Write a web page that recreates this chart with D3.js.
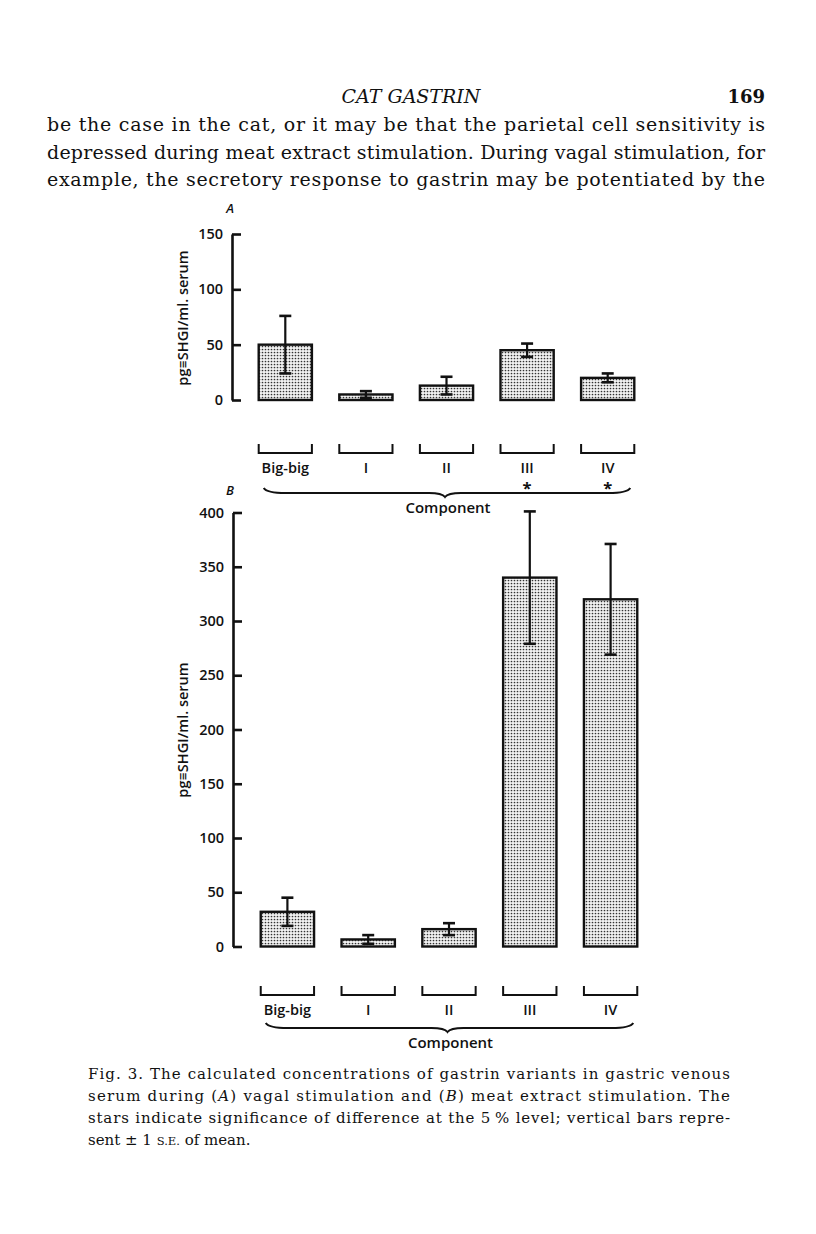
<!DOCTYPE html>
<html>
<head>
<meta charset="utf-8">
<script src="https://cdn.jsdelivr.net/npm/d3@7/dist/d3.min.js"></script>
<style>
  html, body { margin: 0; padding: 0; background: #fff; }
  svg { display: block; }
</style>
</head>
<body>
<script>
// ---------- data ----------
const categories = ["Big-big", "I", "II", "III", "IV"];
const valuesA = [50, 5, 13, 45, 20];
const errorsA = [26, 3, 8, 6, 4];
const starsA = ["", "", "", "*", "*"];
const valuesB = [32, 6.5, 16, 340, 320];
const errorsB = [13, 4, 5.5, 61, 51];
const ticksA = [0, 50, 100, 150];
const ticksB = [0, 50, 100, 150, 200, 250, 300, 350, 400];
const yLabel = "pg\u2261SHGI/ml. serum";
const xLabel = "Component";
const headerTitle = "CAT GASTRIN";
const pageNumber = "169";
const bodyLines = [
  "be the case in the cat, or it may be that the parietal cell sensitivity is",
  "depressed during meat extract stimulation. During vagal stimulation, for",
  "example, the secretory response to gastrin may be potentiated by the"
];
const captionLines = [
  "Fig. 3. The calculated concentrations of gastrin variants in gastric venous",
  "serum during (A) vagal stimulation and (B) meat extract stimulation. The",
  "stars indicate significance of difference at the 5\u2009% level; vertical bars repre-",
  "sent \u00b1 1 s.e. of mean."
];

// ---------- setup ----------
const W = 816, H = 1234;
const svg = d3.select("body").append("svg").attr("width", W).attr("height", H);
svg.append("rect").attr("width", W).attr("height", H).attr("fill", "#fff");

const defs = svg.append("defs");
const pat = defs.append("pattern").attr("id", "stipple")
  .attr("patternUnits", "userSpaceOnUse").attr("width", 3).attr("height", 3);
pat.append("rect").attr("width", 3).attr("height", 3).attr("fill", "#f2f2f2");
pat.append("circle").attr("cx", 1.5).attr("cy", 1.5).attr("r", 0.85).attr("fill", "#333");

const serif = "'DejaVu Serif', 'Liberation Serif', serif";
const sans = "'Open Sans', 'Lato', sans-serif";
const ink = "#111";

// ---------- page text ----------
svg.append("text").attr("x", 411).attr("y", 103).attr("text-anchor", "middle")
  .attr("font-family", serif).attr("font-style", "italic").attr("font-size", 19)
  .attr("fill", ink).text(headerTitle);
svg.append("text").attr("x", 765).attr("y", 103).attr("text-anchor", "end")
  .attr("font-family", serif).attr("font-weight", "bold").attr("font-size", 18)
  .attr("fill", ink).text(pageNumber);

bodyLines.forEach((t, i) => {
  svg.append("text").attr("x", 47).attr("y", 131 + i * 27.5)
    .attr("font-family", serif).attr("font-size", 19).attr("fill", ink)
    .attr("textLength", 718).attr("lengthAdjust", "spacing")
    .text(t);
});

const capSel = svg.append("g").attr("font-family", serif).attr("font-size", 15).attr("fill", ink);
captionLines.forEach((t, i) => {
  const el = capSel.append("text").attr("x", 88).attr("y", 1079 + i * 22);
  if (i < 3) el.attr("textLength", 642).attr("lengthAdjust", "spacing");
  if (i === 1) {
    el.append("tspan").text("serum during (");
    el.append("tspan").attr("font-style", "italic").text("A");
    el.append("tspan").text(") vagal stimulation and (");
    el.append("tspan").attr("font-style", "italic").text("B");
    el.append("tspan").text(") meat extract stimulation. The");
  } else if (i === 3) {
    el.append("tspan").text("sent \u00b1 1 ");
    el.append("tspan").attr("font-size", 11.5).text("S.E.");
    el.append("tspan").text(" of mean.");
  } else {
    el.text(t);
  }
});

// ---------- panel drawer ----------
function drawPanel(cfg) {
  const g = svg.append("g");
  const x = d3.scaleBand().domain(categories).range(cfg.xRange)
    .paddingInner(0.34).paddingOuter(0.17);
  const y = d3.scaleLinear().domain(cfg.domain).range(cfg.yRange);

  // axis
  const axis = d3.axisLeft(y).tickValues(cfg.ticks).tickSize(-9).tickSizeOuter(0).tickPadding(9);
  const ax = g.append("g").attr("transform", `translate(${cfg.axisX},0)`).call(axis);
  ax.select(".domain").attr("stroke", ink).attr("stroke-width", 2.6);
  ax.selectAll(".tick line").attr("stroke", ink).attr("stroke-width", 2.6);
  ax.selectAll(".tick text").attr("font-family", sans).attr("font-size", 14.5)
    .attr("font-weight", 600).attr("fill", ink);

  // bars
  g.selectAll("rect.bar").data(cfg.values).enter().append("rect")
    .attr("class", "bar")
    .attr("x", (d, i) => x(categories[i]))
    .attr("width", x.bandwidth())
    .attr("y", d => y(d))
    .attr("height", d => y(0) - y(d))
    .attr("fill", "url(#stipple)").attr("stroke", ink).attr("stroke-width", 2.4);

  // error bars
  const capW = 6;
  cfg.values.forEach((v, i) => {
    const cx = x(categories[i]) + x.bandwidth() / 2;
    const lo = Math.max(0, v - cfg.errors[i]), hi = v + cfg.errors[i];
    g.append("line").attr("x1", cx).attr("x2", cx).attr("y1", y(lo)).attr("y2", y(hi))
      .attr("stroke", ink).attr("stroke-width", 2.2);
    [lo, hi].forEach(e => {
      g.append("line").attr("x1", cx - capW).attr("x2", cx + capW).attr("y1", y(e)).attr("y2", y(e))
        .attr("stroke", ink).attr("stroke-width", 2.6);
    });
  });

  // brackets
  const bt = cfg.bracketY, bb = cfg.bracketY + 9;
  categories.forEach(c => {
    const x0 = x(c), x1 = x(c) + x.bandwidth();
    g.append("path").attr("d", `M${x0},${bt}V${bb}H${x1}V${bt}`)
      .attr("fill", "none").attr("stroke", ink).attr("stroke-width", 2);
    g.append("text").attr("x", x0 + x.bandwidth() / 2).attr("y", bb + 19.5)
      .attr("text-anchor", "middle").attr("font-family", sans).attr("font-size", 14.5)
      .attr("font-weight", 600).attr("fill", ink).text(c);
  });
  if (cfg.stars) {
    cfg.stars.forEach((s, i) => {
      if (!s) return;
      g.append("text").attr("x", x(categories[i]) + x.bandwidth() / 2).attr("y", bb + 41)
        .attr("text-anchor", "middle").attr("font-family", sans).attr("font-size", 16.5)
        .attr("font-weight", 700).attr("fill", ink).text(s);
    });
  }

  // brace
  const bx0 = x(categories[0]) + 5, bx1 = x(categories[categories.length - 1]) + x.bandwidth() - 4;
  const bc = (bx0 + bx1) / 2 - 2;
  const t0 = cfg.braceY, t1 = t0 + 5, t2 = t0 + 9;
  g.append("path")
    .attr("d", `M${bx0},${t0} Q${bx0 + 3},${t1} ${bx0 + 22},${t1} L${bc - 16},${t1} Q${bc - 3},${t1} ${bc},${t2} Q${bc + 3},${t1} ${bc + 16},${t1} L${bx1 - 22},${t1} Q${bx1 - 3},${t1} ${bx1},${t0}`)
    .attr("fill", "none").attr("stroke", ink).attr("stroke-width", 2);
  g.append("text").attr("x", bc + 3).attr("y", t0 + 25).attr("text-anchor", "middle")
    .attr("font-family", sans).attr("font-size", 15).attr("font-weight", 600)
    .attr("fill", ink).text(xLabel);

  // y label
  g.append("text").attr("transform", `translate(${cfg.yLabelX},${cfg.yLabelY}) rotate(-90)`)
    .attr("text-anchor", "middle").attr("font-family", sans).attr("font-size", 14.5)
    .attr("font-weight", 600).attr("fill", ink).text(yLabel);

  // panel letter
  g.append("text").attr("x", cfg.letterX).attr("y", cfg.letterY).attr("text-anchor", "middle")
    .attr("font-family", sans).attr("font-style", "italic").attr("font-size", 13)
    .attr("font-weight", 600).attr("fill", ink).text(cfg.letter);
}

drawPanel({
  letter: "A", letterX: 230, letterY: 213,
  domain: [0, 150], yRange: [400, 234], ticks: ticksA, axisX: 232,
  xRange: [245, 648], values: valuesA, errors: errorsA, stars: starsA,
  bracketY: 444, braceY: 488, yLabelX: 188, yLabelY: 318
});

drawPanel({
  letter: "B", letterX: 230, letterY: 495,
  domain: [0, 400], yRange: [946.5, 512.5], ticks: ticksB, axisX: 233,
  xRange: [247, 651], values: valuesB, errors: errorsB, stars: null,
  bracketY: 986, braceY: 1023, yLabelX: 188, yLabelY: 730
});
</script>
</body>
</html>
